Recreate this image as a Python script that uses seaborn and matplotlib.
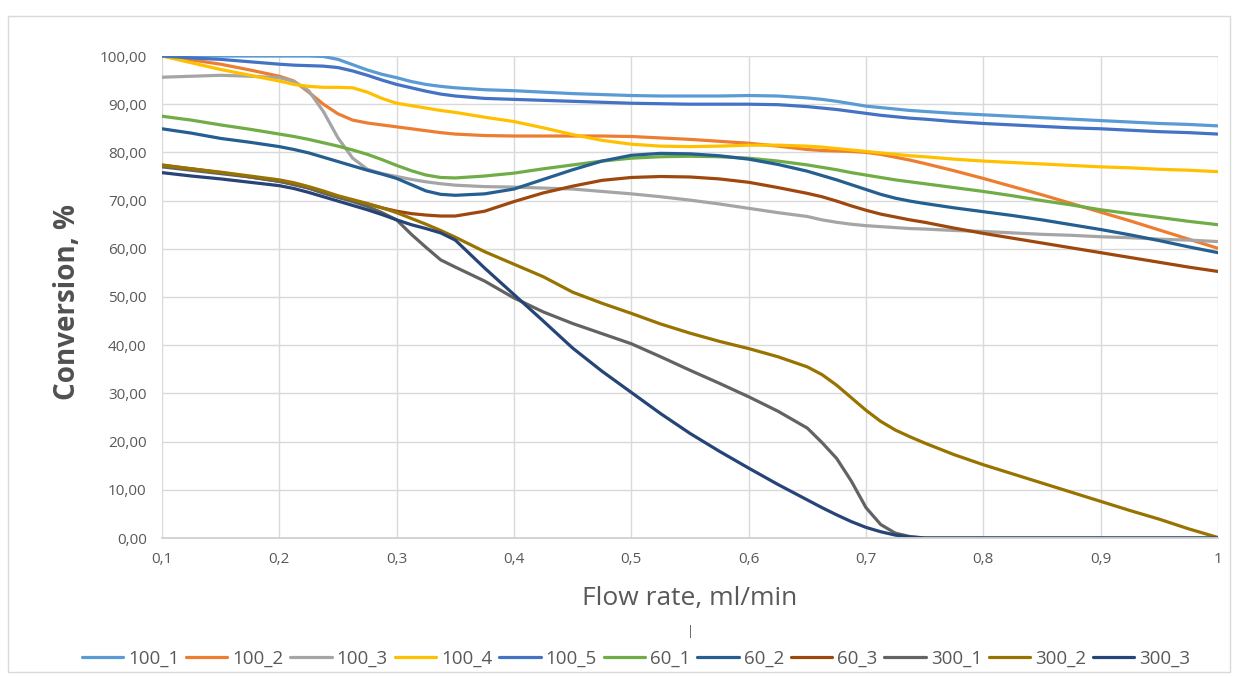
import numpy as np
import pandas as pd
import seaborn as sns
import matplotlib
matplotlib.use("Agg")
import matplotlib.pyplot as plt
from matplotlib.patches import Rectangle
from matplotlib.ticker import FuncFormatter

# flow rate, ml/min (denser where the curves bend sharply)
flow = [0.1, 0.125, 0.15, 0.175, 0.2, 0.2125, 0.225, 0.2375, 0.25, 0.2625,
        0.275, 0.2875, 0.3, 0.3125, 0.325, 0.3375, 0.35, 0.375, 0.4, 0.425,
        0.45, 0.475, 0.5, 0.525, 0.55, 0.575, 0.6, 0.625, 0.65, 0.6625,
        0.675, 0.6875, 0.7, 0.7125, 0.725, 0.7375, 0.75, 0.775, 0.8, 0.825,
        0.85, 0.875, 0.9, 0.925, 0.95, 0.975, 1.0]

s100_1 = [100, 100, 100, 100, 100, 100, 100, 99.9, 99.3, 98.2,
          97.1, 96.2, 95.5, 94.7, 94.1, 93.7, 93.4, 93.0, 92.8, 92.5,
          92.2, 92.0, 91.8, 91.7, 91.7, 91.7, 91.8, 91.7, 91.3, 91.0,
          90.6, 90.1, 89.6, 89.3, 89.0, 88.7, 88.5, 88.1, 87.8, 87.5,
          87.2, 86.9, 86.6, 86.3, 86.0, 85.8, 85.5]
s100_2 = [100, 99.2, 98.3, 97.1, 95.8, 94.8, 92.5, 90.0, 88.0, 86.7,
          86.1, 85.7, 85.3, 84.9, 84.5, 84.1, 83.8, 83.5, 83.4, 83.4,
          83.4, 83.4, 83.3, 83.0, 82.7, 82.3, 81.9, 81.3, 80.6, 80.4,
          80.3, 80.2, 80.0, 79.6, 79.0, 78.4, 77.7, 76.2, 74.6, 72.9,
          71.2, 69.4, 67.6, 65.8, 63.9, 62.0, 60.1]
s100_3 = [95.6, 95.8, 96.0, 95.8, 95.5, 94.7, 92.8, 88.5, 83.0, 78.8,
          76.5, 75.6, 75.0, 74.4, 73.9, 73.5, 73.2, 72.9, 72.8, 72.6,
          72.4, 71.9, 71.4, 70.8, 70.1, 69.3, 68.4, 67.5, 66.7, 66.0,
          65.5, 65.1, 64.8, 64.6, 64.4, 64.2, 64.1, 63.8, 63.6, 63.3,
          63.0, 62.8, 62.5, 62.3, 62.0, 61.8, 61.5]
s100_4 = [100, 98.6, 97.2, 96.0, 94.8, 94.1, 93.7, 93.5, 93.5, 93.4,
          92.5, 91.2, 90.2, 89.7, 89.2, 88.7, 88.3, 87.3, 86.4, 85.1,
          83.7, 82.5, 81.7, 81.3, 81.2, 81.3, 81.5, 81.5, 81.3, 81.1,
          80.8, 80.5, 80.2, 79.9, 79.6, 79.3, 79.1, 78.6, 78.2, 77.9,
          77.6, 77.3, 77.0, 76.8, 76.5, 76.3, 76.0]
s100_5 = [100, 99.6, 99.3, 98.8, 98.3, 98.1, 98.0, 97.9, 97.6, 96.9,
          96.0, 95.0, 94.1, 93.4, 92.7, 92.1, 91.7, 91.2, 91.0, 90.8,
          90.6, 90.4, 90.2, 90.1, 90.0, 90.0, 90.0, 89.9, 89.5, 89.2,
          88.9, 88.5, 88.1, 87.7, 87.4, 87.1, 86.9, 86.4, 86.0, 85.7,
          85.4, 85.1, 84.9, 84.6, 84.3, 84.1, 83.8]
s60_1 = [87.5, 86.7, 85.7, 84.8, 83.8, 83.3, 82.7, 82.0, 81.3, 80.5,
         79.6, 78.5, 77.3, 76.2, 75.3, 74.8, 74.7, 75.1, 75.7, 76.6,
         77.4, 78.2, 78.8, 79.1, 79.2, 79.1, 78.8, 78.2, 77.4, 76.9,
         76.4, 75.8, 75.3, 74.8, 74.3, 73.9, 73.5, 72.7, 71.9, 71.0,
         70.0, 69.1, 68.1, 67.3, 66.5, 65.7, 65.0]
s60_2 = [84.9, 84.0, 82.9, 82.1, 81.2, 80.6, 79.9, 79.0, 78.1, 77.2,
         76.3, 75.5, 74.6, 73.3, 72.0, 71.3, 71.1, 71.4, 72.4, 74.4,
         76.4, 78.2, 79.4, 79.8, 79.7, 79.3, 78.6, 77.5, 76.1, 75.2,
         74.3, 73.3, 72.3, 71.3, 70.5, 69.9, 69.4, 68.5, 67.7, 66.9,
         66.0, 65.0, 64.0, 62.9, 61.7, 60.4, 59.2]
s60_3 = [77.4, 76.6, 75.8, 74.9, 74.0, 73.3, 72.6, 71.6, 70.7, 70.0,
         69.3, 68.5, 67.8, 67.3, 67.0, 66.8, 66.8, 67.8, 69.8, 71.6,
         73.0, 74.2, 74.8, 75.0, 74.9, 74.5, 73.8, 72.7, 71.5, 70.8,
         69.9, 68.9, 68.0, 67.2, 66.6, 66.0, 65.5, 64.3, 63.2, 62.2,
         61.2, 60.2, 59.2, 58.2, 57.2, 56.2, 55.3]
s300_1 = [77.0, 76.3, 75.6, 74.9, 74.0, 73.4, 72.6, 71.6, 70.7, 69.8,
          68.8, 67.5, 66.0, 63.0, 60.3, 57.7, 56.2, 53.3, 49.8, 46.9,
          44.5, 42.4, 40.3, 37.6, 34.8, 32.1, 29.3, 26.3, 22.8, 19.8,
          16.5, 11.8, 6.3, 2.8, 1.0, 0.3, 0.0, 0.0, 0.0, 0.0,
          0.0, 0.0, 0.0, 0.0, 0.0, 0.0, 0.0]
s300_2 = [77.3, 76.6, 75.9, 75.1, 74.3, 73.7, 72.9, 72.0, 71.0, 70.2,
          69.4, 68.5, 67.5, 66.3, 65.1, 63.8, 62.4, 59.4, 56.8, 54.2,
          51.0, 48.7, 46.6, 44.4, 42.5, 40.8, 39.3, 37.6, 35.5, 33.9,
          31.7, 29.1, 26.5, 24.2, 22.4, 21.0, 19.7, 17.3, 15.2, 13.3,
          11.4, 9.5, 7.6, 5.7, 3.9, 1.9, 0.1]
s300_3 = [75.8, 75.1, 74.5, 73.8, 73.1, 72.5, 71.7, 70.8, 69.9, 69.0,
          68.1, 67.1, 66.0, 65.0, 64.2, 63.3, 61.8, 56.0, 50.5, 45.0,
          39.4, 34.6, 30.2, 25.8, 21.7, 18.0, 14.5, 11.1, 7.9, 6.3,
          4.8, 3.4, 2.2, 1.3, 0.6, 0.2, 0.0, 0.0, 0.0, 0.0,
          0.0, 0.0, 0.0, 0.0, 0.0, 0.0, 0.0]

names = ["100_1", "100_2", "100_3", "100_4", "100_5",
         "60_1", "60_2", "60_3", "300_1", "300_2", "300_3"]
values = [s100_1, s100_2, s100_3, s100_4, s100_5,
          s60_1, s60_2, s60_3, s300_1, s300_2, s300_3]
colors = ["#5B9BD5", "#ED7D31", "#A5A5A5", "#FFC000", "#4472C4",
          "#70AD47", "#255E91", "#9E480E", "#636363", "#997300", "#264478"]

df = pd.concat([pd.DataFrame({"flow": flow, "conv": v, "series": n})
                for n, v in zip(names, values)], ignore_index=True)

#%%
sns.set_theme(style="whitegrid")
plt.rcParams["font.family"] = ["Open Sans", "DejaVu Sans"]

fig = plt.figure(figsize=(12.34, 6.77), dpi=100)
ax = fig.add_axes([162/1234, 1 - 538/677, (1218-162)/1234, (538-56)/677])

sns.lineplot(data=df, x="flow", y="conv", hue="series", hue_order=names,
             palette=dict(zip(names, colors)), linewidth=2.3, sort=False,
             estimator=None, ax=ax)

ax.set_xlim(0.1, 1.0)
ax.set_ylim(0, 100)
ax.set_xticks(np.arange(0.1, 1.01, 0.1))
ax.set_yticks(np.arange(0, 101, 10))
ax.xaxis.set_major_formatter(FuncFormatter(
    lambda v, p: "1" if abs(v - 1) < 1e-6 else f"{v:.1f}".replace(".", ",")))
ax.yaxis.set_major_formatter(FuncFormatter(
    lambda v, p: f"{v:.2f}".replace(".", ",")))

ax.grid(True, color="#D9D9D9", linewidth=1)
for side in ["left", "right", "top"]:
    ax.spines[side].set_visible(False)
ax.spines["bottom"].set_color("#D0D0D0")
ax.spines["bottom"].set_linewidth(1.3)
ax.tick_params(axis="both", length=0, labelsize=11, colors="#595959")
ax.tick_params(axis="x", pad=10)
ax.tick_params(axis="y", pad=11)

ax.set_xlabel("Flow rate, ml/min", fontsize=19, color="#595959")
ax.set_ylabel("Conversion, %", fontsize=20, fontweight="bold", color="#505050")
ax.xaxis.set_label_coords(0.5, -0.1)
ax.yaxis.set_label_coords(-0.076, 0.49)

ax.legend_.remove()
handles, labels = ax.get_legend_handles_labels()
fig.legend(handles, labels, loc="center", bbox_to_anchor=(636/1234, 1 - 659/677),
           ncol=11, frameon=False, fontsize=13.5, handlelength=2.2,
           handletextpad=0.27, columnspacing=0.37, labelcolor="#595959")

fig.text(690/1234, 1 - 632/677, "|", fontsize=9, color="#595959",
         ha="center", va="center")
fig.patches.append(Rectangle((8/1234, 1 - 672/677), (1230-8)/1234, (672-16)/677,
                             transform=fig.transFigure, fill=False,
                             edgecolor="#D9D9D9", linewidth=1))

fig.savefig("out.png", dpi=100)
